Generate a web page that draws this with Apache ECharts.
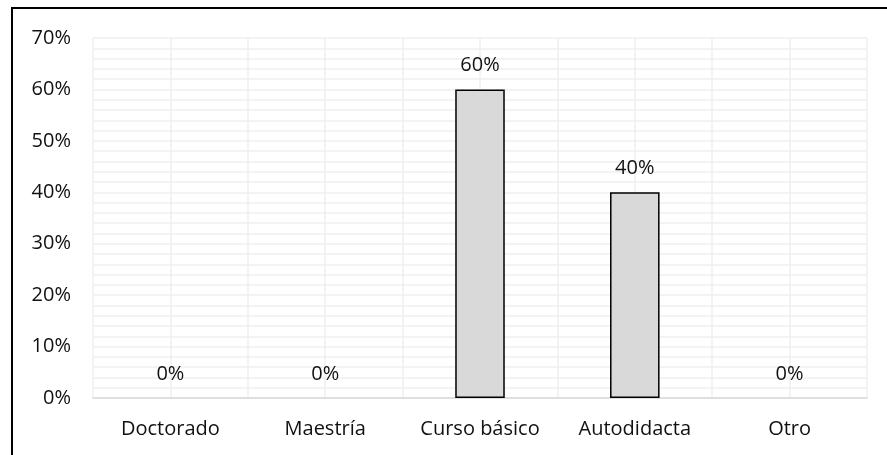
<!DOCTYPE html>
<html>
<head>
<meta charset="utf-8">
<script src="https://cdn.jsdelivr.net/npm/echarts@6/dist/echarts.min.js"></script>
<style>
  html, body { margin: 0; padding: 0; background: #fff; }
  #chart { width: 887px; height: 455px; }
</style>
</head>
<body>
<div id="chart"></div>
<script>
// datos
var categorias = ['Doctorado', 'Maestría', 'Curso básico', 'Autodidacta', 'Otro'];
var porcentajes = [0, 0, 60, 40, 0];
var yMin = 0, yMax = 70, yPaso = 10;

var fuente = 'Open Sans';
var chart = echarts.init(document.getElementById('chart'));

// las barras en 0% no muestran borde
var datosBarras = porcentajes.map(function (v) {
  return v === 0 ? { value: v, itemStyle: { borderWidth: 0 } } : v;
});

var option = {
  backgroundColor: '#fff',
  animation: false,
  grid: { left: 93, top: 38, right: 20, bottom: 57 },
  // marco exterior (recortado por la imagen a la derecha y abajo)
  graphic: [{
    type: 'rect',
    shape: { x: 12, y: 8, width: 900, height: 500 },
    style: { fill: 'none', stroke: '#000', lineWidth: 2 },
    silent: true
  }],
  xAxis: [
    {
      type: 'category',
      data: categorias,
      axisLine: { lineStyle: { color: '#d9d9d9', width: 1.5 } },
      axisTick: { show: false },
      splitLine: { show: false },
      axisLabel: { interval: 0, color: '#111', fontFamily: fuente, fontSize: 20, margin: 21 }
    },
    {
      // eje oculto solo para las lineas verticales cada media categoria
      type: 'value',
      min: 0, max: 10, interval: 1,
      show: true,
      axisLine: { show: false },
      axisTick: { show: false },
      axisLabel: { show: false },
      splitLine: { show: true, lineStyle: { color: '#efefef', width: 1.5 } }
    }
  ],
  yAxis: {
    type: 'value',
    min: yMin, max: yMax, interval: yPaso,
    axisLine: { show: false },
    axisTick: { show: false },
    axisLabel: { color: '#111', fontFamily: fuente, fontSize: 20, margin: 22, formatter: '{value}%' },
    splitLine: { show: true, lineStyle: { color: '#efefef', width: 1.5 } },
    minorTick: { show: false, splitNumber: 5 },
    minorSplitLine: { show: true, lineStyle: { color: '#efefef', width: 1.5 } }
  },
  series: [{
    type: 'bar',
    xAxisIndex: 0,
    data: datosBarras,
    barWidth: '32%',
    itemStyle: { color: '#d9d9d9', borderColor: '#000', borderWidth: 1.5 },
    label: {
      show: true,
      position: 'top',
      distance: 14,
      color: '#111',
      fontFamily: fuente,
      fontSize: 20,
      formatter: '{c}%'
    }
  }]
};
chart.setOption(option);
</script>
</body>
</html>
